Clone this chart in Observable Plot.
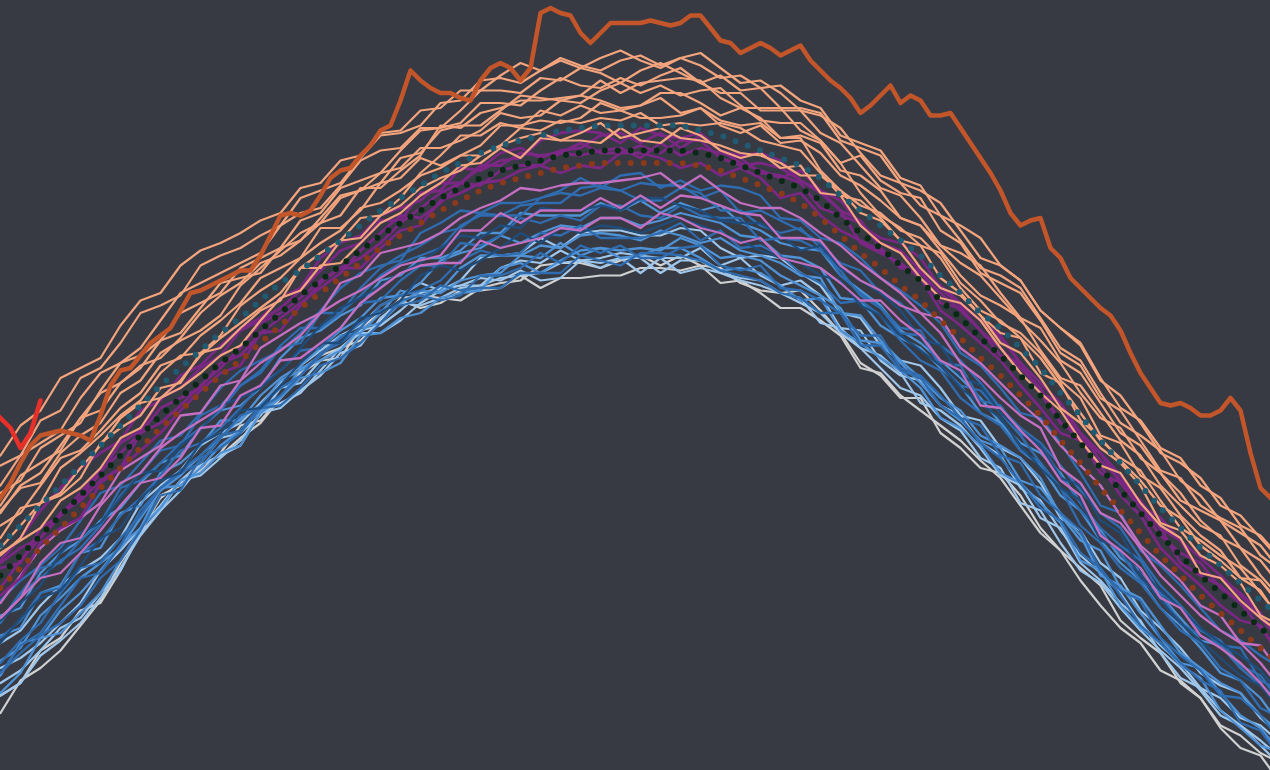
<!DOCTYPE html>
<html><head><meta charset="utf-8">
<script src="https://cdn.jsdelivr.net/npm/d3@7"></script>
<script src="https://cdn.jsdelivr.net/npm/@observablehq/plot@0.6"></script>
<style>html,body{margin:0;padding:0;background:#373a43;overflow:hidden}#chart svg{display:block}</style>
</head><body><div id="chart"></div>
<script>
// day of year (every 2nd day) for the thin yearly lines and the climatology means
const days = [170,172,174,176,178,180,182,184,186,188,190,192,194,196,198,200,202,204,206,208,210,212,214,216,218,220,222,224,226,228,230,232,234,236,238,240,242,244,246,248,250,252,254,256,258,260,262,264,266,268,270,272,274,276,278,280,282,284,286,288,290,292,294,296,298];
const days2023 = [169,170,171,172,173,174,175,176,177,178,179,180,181,182,183,184,185,186,187,188,189,190,191,192,193,194,195,196,197,198,199,200,201,202,203,204,205,206,207,208,209,210,211,212,213,214,215,216,217,218,219,220,221,222,223,224,225,226,227,228,229,230,231,232,233,234,235,236,237,238,239,240,241,242,243,244,245,246,247,248,249,250,251,252,253,254,255,256,257,258,259,260,261,262,263,264,265,266,267,268,269,270,271,272,273,274,275,276,277,278,279,280,281,282,283,284,285,286,287,288,289,290,291,292,293,294,295,296,297,298];
const days2024 = [169,170,171,172,173,174];

// temperatures in hundredths of a degree C
const sst2023 = [2346,2351,2357,2365,2372,2376,2377,2378,2377,2376,2374,2384,2396,2402,2403,2408,2413,2416,2419,2426,2433,2434,2436,2438,2440,2442,2442,2448,2456,2464,2465,2464,2466,2472,2479,2482,2483,2488,2492,2498,2500,2510,2522,2518,2515,2513,2513,2511,2510,2518,2523,2525,2523,2518,2523,2545,2547,2545,2544,2537,2533,2537,2541,2541,2541,2541,2542,2541,2540,2541,2544,2544,2539,2534,2533,2529,2531,2533,2531,2528,2530,2532,2526,2522,2518,2515,2511,2505,2508,2512,2516,2509,2512,2510,2504,2504,2505,2499,2493,2487,2481,2474,2465,2460,2462,2463,2451,2447,2439,2435,2431,2427,2424,2418,2409,2401,2395,2389,2388,2389,2387,2384,2384,2386,2391,2386,2369,2355,2351,2347];
const sst2024 = [2387,2383,2379,2371,2377,2390];

const meanWarm = [2332,2340,2348,2356,2364,2372,2380,2388,2396,2403,2410,2417,2423,2430,2437,2442,2448,2454,2460,2466,2471,2476,2481,2485,2489,2492,2494,2496,2498,2499,2500,2500,2500,2500,2500,2498,2496,2493,2490,2487,2484,2479,2472,2466,2460,2454,2448,2440,2433,2425,2419,2411,2403,2393,2384,2374,2365,2356,2347,2339,2331,2324,2317,2310,2303];
const meanMid = [2320,2328,2336,2344,2352,2360,2368,2376,2384,2391,2398,2405,2411,2418,2425,2432,2438,2444,2450,2456,2461,2466,2471,2475,2479,2482,2484,2486,2488,2489,2490,2490,2490,2490,2490,2489,2487,2484,2481,2478,2475,2470,2463,2457,2451,2444,2438,2430,2423,2415,2408,2400,2392,2382,2373,2363,2354,2345,2336,2328,2320,2313,2306,2299,2292];
const meanCool = [2315,2323,2331,2339,2347,2355,2363,2371,2379,2386,2393,2400,2406,2413,2420,2427,2433,2439,2445,2451,2456,2461,2466,2470,2474,2477,2479,2481,2483,2484,2485,2485,2485,2485,2485,2484,2482,2479,2476,2473,2469,2463,2456,2449,2443,2436,2430,2422,2415,2407,2400,2392,2384,2374,2365,2355,2346,2337,2328,2320,2312,2305,2298,2291,2284];

const sal1 = [2368,2380,2386,2399,2403,2407,2420,2430,2433,2444,2450,2453,2457,2462,2465,2475,2477,2486,2488,2497,2498,2506,2507,2514,2514,2520,2525,2522,2526,2523,2527,2530,2526,2523,2527,2524,2519,2520,2515,2516,2510,2507,2496,2493,2490,2479,2476,2464,2460,2455,2444,2438,2426,2419,2412,2398,2392,2381,2369,2365,2359,2348,2344,2335,2326];
const sal2 = [2364,2368,2382,2386,2399,2403,2413,2425,2428,2432,2444,2448,2451,2456,2460,2471,2474,2477,2487,2496,2497,2500,2509,2510,2518,2519,2517,2522,2527,2524,2522,2526,2528,2524,2527,2529,2523,2517,2518,2513,2506,2504,2499,2489,2480,2477,2468,2464,2454,2443,2440,2435,2423,2411,2406,2393,2381,2376,2370,2358,2352,2342,2337,2332,2322];
const sal3 = [2356,2368,2373,2378,2391,2401,2405,2411,2422,2433,2437,2441,2445,2449,2460,2465,2467,2476,2486,2490,2491,2499,2499,2506,2514,2514,2513,2519,2518,2523,2521,2517,2522,2525,2521,2517,2520,2514,2515,2507,2507,2505,2494,2491,2488,2477,2474,2469,2458,2447,2444,2438,2426,2419,2413,2399,2387,2382,2371,2367,2356,2351,2340,2336,2327];
const sal4 = [2353,2358,2371,2376,2381,2394,2405,2408,2414,2425,2429,2433,2443,2447,2451,2462,2465,2475,2478,2481,2490,2498,2499,2501,2509,2509,2508,2514,2519,2516,2515,2519,2516,2520,2523,2517,2513,2513,2506,2506,2506,2497,2493,2484,2475,2472,2463,2452,2449,2444,2433,2423,2419,2406,2401,2389,2377,2372,2361,2350,2346,2342,2331,2326,2316];
const sal5 = [2348,2360,2365,2370,2383,2393,2397,2403,2414,2417,2427,2437,2439,2441,2451,2454,2463,2472,2474,2477,2487,2489,2498,2500,2500,2506,2512,2511,2510,2509,2514,2517,2513,2516,2512,2514,2515,2508,2502,2501,2501,2494,2485,2488,2478,2473,2471,2458,2453,2441,2437,2433,2422,2409,2404,2391,2386,2374,2362,2359,2348,2343,2339,2328,2322];
const sal6 = [2345,2356,2361,2372,2383,2386,2397,2404,2407,2415,2425,2432,2437,2445,2448,2454,2461,2471,2474,2481,2483,2491,2491,2494,2498,2505,2503,2504,2510,2512,2510,2507,2508,2513,2513,2509,2504,2507,2503,2495,2496,2493,2482,2480,2474,2463,2460,2450,2440,2432,2428,2423,2410,2399,2396,2385,2374,2368,2356,2348,2340,2336,2324,2318,2309];
const sal7 = [2346,2355,2357,2369,2376,2381,2393,2398,2409,2414,2418,2424,2436,2443,2450,2457,2461,2464,2475,2475,2482,2488,2500,2499,2505,2507,2510,2510,2511,2512,2518,2513,2517,2518,2519,2518,2511,2507,2507,2507,2498,2494,2485,2473,2464,2459,2452,2449,2437,2430,2421,2417,2409,2398,2391,2376,2373,2360,2355,2344,2336,2330,2319,2318,2308];
const sal8 = [2340,2345,2356,2367,2370,2378,2387,2393,2404,2407,2416,2422,2429,2439,2443,2447,2459,2459,2466,2477,2479,2487,2484,2488,2492,2500,2500,2502,2501,2503,2509,2506,2503,2503,2504,2507,2500,2497,2500,2493,2494,2489,2480,2476,2470,2463,2460,2452,2445,2440,2431,2422,2414,2405,2393,2383,2379,2367,2361,2353,2342,2335,2331,2320,2311];
const sal9 = [2335,2347,2349,2363,2369,2376,2384,2390,2401,2408,2409,2416,2428,2434,2439,2447,2453,2458,2467,2469,2474,2480,2483,2488,2488,2492,2499,2498,2502,2501,2503,2502,2505,2500,2501,2500,2501,2499,2494,2492,2490,2481,2472,2470,2463,2454,2452,2439,2433,2424,2417,2415,2401,2397,2382,2375,2366,2358,2348,2343,2332,2326,2319,2314,2302];
const sal10 = [2331,2340,2349,2353,2363,2372,2383,2389,2391,2398,2408,2415,2421,2427,2433,2443,2449,2454,2463,2464,2471,2481,2488,2496,2496,2501,2499,2506,2504,2508,2505,2506,2508,2511,2505,2507,2502,2500,2501,2495,2495,2482,2474,2465,2462,2454,2443,2435,2432,2424,2413,2409,2399,2387,2381,2371,2365,2356,2341,2338,2328,2324,2317,2304,2300];
const sal11 = [2328,2335,2349,2352,2359,2373,2379,2384,2395,2397,2409,2411,2419,2426,2430,2443,2443,2454,2455,2464,2468,2475,2479,2482,2488,2492,2495,2497,2494,2497,2501,2495,2497,2499,2495,2494,2492,2489,2488,2485,2480,2480,2474,2468,2465,2458,2455,2447,2435,2426,2422,2415,2407,2396,2385,2374,2367,2362,2350,2339,2334,2328,2323,2313,2303];
const sal12 = [2329,2334,2339,2350,2355,2363,2375,2379,2391,2395,2401,2408,2412,2422,2431,2434,2444,2445,2453,2461,2465,2472,2477,2484,2485,2491,2487,2495,2494,2494,2493,2499,2494,2493,2499,2496,2490,2487,2489,2483,2484,2473,2472,2460,2453,2449,2439,2431,2429,2422,2411,2401,2393,2386,2374,2364,2361,2349,2340,2335,2321,2319,2310,2303,2297];

const pur1 = [2326,2335,2346,2355,2363,2369,2374,2386,2390,2400,2404,2412,2419,2423,2431,2435,2447,2453,2456,2464,2467,2470,2477,2477,2483,2489,2491,2487,2490,2491,2496,2497,2493,2497,2491,2496,2490,2485,2482,2479,2482,2474,2470,2460,2455,2453,2447,2435,2428,2422,2416,2405,2397,2389,2377,2369,2360,2348,2343,2334,2327,2320,2312,2304,2295];
const pur2 = [2325,2331,2335,2344,2351,2361,2373,2378,2391,2395,2403,2408,2418,2422,2427,2434,2442,2450,2453,2462,2462,2473,2474,2483,2482,2486,2487,2494,2497,2498,2497,2493,2499,2496,2495,2497,2490,2488,2489,2486,2478,2474,2466,2462,2451,2443,2442,2429,2427,2418,2408,2405,2393,2381,2377,2366,2358,2347,2336,2329,2325,2315,2309,2303,2294];
const pur3 = [2323,2325,2339,2344,2353,2362,2369,2377,2387,2391,2395,2405,2408,2417,2423,2429,2435,2441,2450,2457,2464,2463,2469,2477,2476,2482,2484,2484,2489,2488,2490,2491,2487,2493,2488,2491,2489,2487,2481,2480,2477,2467,2464,2461,2453,2450,2442,2436,2429,2422,2415,2405,2393,2389,2374,2369,2357,2350,2339,2334,2321,2319,2313,2305,2294];
const pur4 = [2315,2326,2335,2345,2350,2358,2363,2377,2381,2388,2396,2403,2411,2421,2425,2431,2438,2443,2447,2453,2461,2467,2473,2477,2484,2484,2489,2488,2489,2493,2489,2489,2492,2489,2494,2494,2487,2484,2485,2483,2478,2473,2466,2453,2449,2445,2439,2426,2420,2413,2406,2396,2387,2377,2374,2364,2352,2344,2331,2323,2316,2308,2302,2300,2287];
const pur5 = [2312,2319,2333,2339,2343,2357,2363,2370,2377,2386,2394,2401,2404,2417,2418,2428,2437,2443,2443,2451,2458,2460,2470,2473,2477,2478,2482,2484,2481,2484,2483,2489,2489,2487,2483,2485,2480,2483,2479,2471,2473,2464,2458,2454,2450,2444,2441,2433,2426,2418,2411,2403,2395,2381,2375,2361,2357,2347,2339,2325,2320,2316,2309,2299,2289];

const pink1 = [2309,2320,2331,2338,2343,2349,2362,2367,2372,2384,2385,2396,2398,2411,2416,2421,2425,2437,2440,2449,2451,2453,2457,2463,2467,2470,2475,2474,2476,2477,2477,2478,2479,2481,2475,2480,2474,2469,2467,2467,2463,2457,2452,2445,2439,2433,2425,2423,2411,2405,2397,2389,2382,2372,2364,2356,2344,2332,2325,2318,2308,2304,2293,2292,2281];
const pink2 = [2303,2311,2325,2333,2335,2348,2357,2361,2371,2377,2382,2387,2398,2405,2410,2416,2425,2430,2434,2439,2444,2446,2448,2458,2458,2465,2461,2466,2466,2466,2471,2467,2472,2467,2472,2471,2468,2465,2464,2455,2455,2454,2444,2438,2434,2428,2425,2417,2405,2399,2391,2384,2379,2363,2357,2345,2341,2331,2320,2312,2304,2298,2293,2285,2275];
const pink3 = [2303,2311,2319,2321,2329,2338,2348,2357,2359,2367,2379,2380,2392,2396,2406,2407,2413,2419,2429,2435,2441,2444,2445,2445,2454,2451,2453,2455,2459,2458,2463,2463,2459,2465,2463,2459,2457,2453,2455,2447,2445,2443,2437,2430,2430,2422,2416,2406,2402,2388,2387,2378,2370,2358,2352,2336,2330,2323,2311,2307,2296,2291,2285,2277,2267];

const navy1 = [2302,2309,2316,2329,2337,2341,2351,2361,2362,2372,2378,2388,2391,2395,2402,2411,2420,2427,2431,2436,2441,2445,2451,2456,2455,2460,2459,2467,2466,2466,2468,2466,2471,2471,2468,2466,2462,2461,2461,2456,2450,2452,2443,2438,2433,2426,2415,2412,2400,2396,2385,2378,2372,2359,2356,2342,2337,2322,2314,2307,2299,2293,2288,2282,2272];
const navy2 = [2293,2303,2311,2314,2324,2335,2339,2351,2358,2361,2373,2377,2386,2387,2396,2405,2413,2413,2423,2425,2430,2440,2444,2442,2446,2451,2457,2453,2459,2457,2460,2459,2457,2460,2463,2460,2457,2454,2450,2447,2445,2440,2438,2428,2424,2416,2410,2404,2395,2389,2383,2372,2363,2355,2350,2334,2331,2320,2310,2301,2294,2287,2280,2276,2266];

const blue1 = [2310,2318,2324,2331,2342,2353,2356,2365,2374,2376,2385,2395,2402,2406,2410,2417,2426,2435,2441,2444,2446,2457,2461,2466,2465,2469,2469,2471,2474,2479,2475,2480,2481,2475,2478,2474,2476,2475,2472,2463,2462,2455,2453,2447,2439,2434,2428,2421,2409,2404,2395,2385,2383,2373,2361,2348,2345,2330,2324,2316,2307,2298,2294,2288,2283];
const blue2 = [2301,2313,2323,2325,2334,2341,2355,2358,2365,2373,2379,2386,2396,2402,2412,2419,2419,2425,2432,2440,2445,2448,2451,2460,2464,2464,2464,2471,2473,2472,2475,2474,2470,2470,2475,2473,2466,2466,2460,2457,2459,2451,2445,2442,2433,2429,2420,2412,2406,2397,2387,2379,2373,2364,2354,2345,2339,2327,2316,2308,2299,2292,2291,2278,2274];
const blue3 = [2302,2313,2319,2326,2331,2340,2352,2361,2370,2372,2384,2388,2396,2401,2411,2413,2425,2425,2435,2443,2448,2452,2457,2459,2465,2464,2468,2469,2469,2475,2476,2474,2477,2476,2476,2471,2474,2465,2466,2462,2458,2453,2440,2433,2427,2417,2416,2404,2396,2394,2385,2376,2365,2355,2346,2337,2329,2318,2312,2301,2296,2292,2283,2276,2270];
const blue4 = [2295,2302,2313,2315,2329,2334,2344,2351,2360,2370,2373,2379,2387,2396,2402,2410,2411,2419,2429,2430,2438,2444,2444,2453,2452,2456,2463,2461,2464,2462,2468,2468,2464,2463,2468,2464,2463,2463,2454,2455,2454,2450,2442,2432,2427,2419,2418,2405,2404,2390,2388,2377,2372,2360,2349,2339,2332,2326,2313,2307,2298,2294,2284,2280,2269];
const blue5 = [2285,2294,2301,2313,2323,2325,2335,2344,2355,2362,2368,2376,2378,2388,2395,2400,2409,2413,2419,2428,2432,2434,2438,2446,2450,2448,2449,2457,2456,2460,2455,2455,2455,2457,2461,2454,2458,2451,2452,2448,2441,2437,2429,2430,2424,2414,2406,2402,2391,2385,2380,2370,2365,2355,2340,2333,2323,2317,2307,2298,2293,2283,2278,2267,2263];
const blue6 = [2281,2289,2296,2301,2308,2319,2326,2338,2352,2354,2367,2371,2377,2387,2388,2395,2404,2407,2413,2421,2430,2432,2430,2432,2440,2440,2443,2449,2445,2452,2449,2452,2447,2447,2451,2452,2444,2442,2444,2435,2434,2430,2425,2412,2412,2402,2399,2388,2383,2373,2367,2357,2347,2342,2329,2323,2312,2300,2293,2285,2278,2274,2261,2258,2247];
const blue7 = [2281,2292,2297,2308,2319,2321,2332,2346,2355,2361,2365,2375,2384,2387,2392,2400,2408,2415,2421,2426,2428,2430,2436,2434,2435,2435,2441,2441,2441,2448,2446,2444,2449,2449,2448,2446,2442,2440,2438,2433,2431,2425,2425,2416,2416,2403,2400,2392,2383,2380,2368,2365,2352,2345,2338,2322,2314,2310,2295,2288,2282,2272,2271,2264,2254];

const mid1 = [2304,2307,2321,2329,2334,2342,2347,2357,2365,2368,2379,2386,2388,2395,2407,2415,2418,2424,2428,2438,2440,2447,2447,2450,2457,2457,2465,2464,2464,2464,2469,2466,2470,2465,2469,2466,2468,2461,2458,2453,2451,2450,2440,2434,2428,2418,2413,2406,2399,2391,2381,2373,2369,2361,2349,2338,2327,2322,2312,2303,2294,2292,2283,2276,2268];
const mid2 = [2296,2299,2313,2316,2329,2331,2345,2348,2361,2365,2372,2382,2382,2392,2399,2404,2411,2418,2423,2431,2432,2437,2446,2449,2451,2456,2453,2457,2460,2459,2463,2463,2460,2462,2465,2463,2461,2456,2455,2448,2447,2443,2431,2430,2420,2415,2411,2403,2396,2385,2381,2370,2364,2352,2346,2334,2325,2318,2307,2300,2291,2281,2278,2271,2260];
const mid3 = [2286,2291,2304,2311,2319,2325,2331,2343,2354,2360,2368,2375,2383,2388,2398,2402,2408,2416,2417,2425,2434,2432,2434,2443,2448,2448,2448,2452,2451,2456,2457,2456,2454,2458,2456,2453,2455,2450,2448,2445,2440,2439,2425,2424,2414,2406,2399,2391,2386,2376,2372,2367,2359,2344,2334,2330,2315,2311,2300,2289,2283,2277,2273,2264,2257];
const mid4 = [2280,2293,2295,2306,2313,2322,2332,2339,2355,2356,2363,2372,2378,2386,2391,2403,2406,2410,2419,2421,2429,2434,2433,2438,2440,2441,2448,2447,2453,2448,2451,2450,2451,2450,2455,2452,2447,2448,2446,2440,2436,2432,2427,2414,2413,2405,2397,2388,2382,2374,2371,2358,2355,2345,2336,2320,2316,2305,2295,2285,2283,2273,2264,2259,2249];
const mid5 = [2273,2281,2295,2297,2305,2313,2326,2339,2347,2358,2361,2369,2372,2385,2391,2399,2401,2405,2416,2417,2423,2425,2431,2433,2434,2443,2445,2441,2446,2450,2451,2447,2448,2451,2451,2447,2442,2443,2441,2436,2430,2431,2418,2413,2407,2402,2395,2383,2379,2372,2361,2357,2349,2341,2326,2322,2308,2299,2293,2284,2279,2266,2259,2252,2249];

const light1 = [2293,2298,2308,2316,2322,2327,2335,2349,2356,2362,2372,2377,2381,2389,2397,2404,2410,2416,2420,2428,2432,2437,2434,2438,2447,2448,2449,2455,2451,2457,2458,2458,2456,2456,2459,2458,2451,2447,2448,2447,2441,2436,2425,2423,2412,2406,2404,2395,2384,2382,2371,2367,2357,2343,2338,2325,2319,2306,2299,2291,2281,2276,2273,2263,2256];
const light2 = [2283,2287,2293,2301,2309,2322,2330,2339,2348,2358,2365,2375,2377,2384,2395,2397,2406,2411,2418,2420,2426,2433,2435,2436,2436,2443,2446,2445,2450,2446,2447,2449,2448,2447,2447,2451,2444,2447,2440,2436,2438,2432,2419,2418,2406,2400,2398,2388,2384,2373,2368,2355,2350,2338,2328,2321,2313,2301,2292,2285,2275,2271,2263,2260,2253];
const light3 = [2277,2282,2290,2299,2303,2313,2322,2337,2346,2358,2360,2367,2374,2385,2387,2394,2400,2409,2412,2423,2429,2428,2431,2435,2436,2439,2440,2441,2445,2446,2443,2447,2441,2447,2441,2443,2441,2438,2436,2433,2429,2425,2417,2411,2408,2401,2389,2386,2380,2371,2360,2356,2343,2339,2325,2318,2309,2302,2289,2279,2275,2266,2260,2252,2244];
const light4 = [2272,2277,2288,2294,2301,2311,2323,2336,2346,2354,2364,2368,2372,2385,2389,2393,2402,2411,2417,2417,2422,2429,2434,2436,2439,2438,2442,2438,2439,2446,2445,2447,2447,2441,2446,2446,2441,2439,2438,2433,2431,2421,2419,2411,2403,2395,2392,2383,2378,2367,2363,2349,2346,2333,2322,2317,2307,2298,2290,2283,2274,2264,2260,2254,2247];

const gray1 = [2265,2278,2283,2290,2300,2310,2325,2337,2352,2356,2362,2369,2380,2382,2391,2402,2408,2411,2414,2422,2431,2432,2431,2430,2435,2437,2438,2444,2445,2445,2443,2446,2448,2444,2448,2444,2443,2437,2434,2433,2434,2426,2417,2405,2400,2391,2391,2377,2371,2363,2361,2352,2339,2330,2323,2316,2302,2295,2289,2277,2271,2260,2256,2249,2245];
const gray2 = [2272,2277,2290,2295,2306,2309,2322,2338,2351,2357,2364,2368,2375,2381,2391,2401,2406,2407,2419,2425,2430,2427,2429,2434,2434,2435,2440,2435,2439,2439,2440,2440,2443,2443,2442,2444,2437,2438,2433,2427,2427,2422,2416,2403,2401,2392,2386,2380,2374,2366,2359,2348,2337,2330,2318,2308,2299,2293,2282,2278,2271,2259,2251,2248,2237];

// colour groups, drawn from coolest (bottom layer) to warmest (top layer)
const groups = [
  {color: "#d1d1d1", width: 2.2, series: [gray1, gray2]},
  {color: "#9fc7ec", width: 2.2, series: [light1, light2, light3, light4]},
  {color: "#4f92d6", width: 2.3, series: [mid1, mid2, mid3, mid4, mid5]},
  {color: "#2f6cb0", width: 2.3, series: [blue1, blue2, blue3, blue4, blue5, blue6, blue7]},
  {color: "#1f4c7a", width: 2.3, series: [navy1, navy2]},
  {color: "#c46fc1", width: 2.3, series: [pink1, pink2, pink3]},
  {color: "#7a2884", width: 2.8, series: [pur1, pur2, pur3, pur4, pur5]},
  {color: "#f4a57e", width: 2.2, series: [sal12, sal11, sal10, sal9, sal8, sal7, sal6, sal5, sal4, sal3, sal2, sal1]}
];

const toRows = (xs, ys, id) => ys.map((v, i) => ({day: xs[i], temp: v / 100, id}));

const marks = [];
groups.forEach((g, gi) => {
  const rows = g.series.flatMap((s, si) => toRows(days, s, gi + "-" + si));
  marks.push(Plot.line(rows, {x: "day", y: "temp", z: "id", stroke: g.color, strokeWidth: g.width, clip: true}));
});
const dotted = {strokeWidth: 6, strokeDasharray: "0,13", strokeLinecap: "round", clip: true};
marks.push(Plot.line(toRows(days, meanCool, "c"), {x: "day", y: "temp", stroke: "#8a3a1b", ...dotted}));
marks.push(Plot.line(toRows(days, meanMid, "m"), {x: "day", y: "temp", stroke: "#0a2914", ...dotted}));
marks.push(Plot.line(toRows(days, meanWarm, "w"), {x: "day", y: "temp", stroke: "#205b72", ...dotted}));
marks.push(Plot.line(toRows(days2023, sst2023, "2023"), {x: "day", y: "temp", stroke: "#c2562a", strokeWidth: 4.5, clip: true}));
marks.push(Plot.line(toRows(days2024, sst2024, "2024"), {x: "day", y: "temp", stroke: "#e8302b", strokeWidth: 4.5, clip: true}));

const chart = Plot.plot({
  width: 1270,
  height: 770,
  margin: 0,
  x: {domain: [170, 297], axis: null},
  y: {domain: [22.42, 25.5], axis: null},
  style: {background: "#373a43", overflow: "hidden"},
  marks
});
document.getElementById("chart").append(chart);
</script>
</body></html>
